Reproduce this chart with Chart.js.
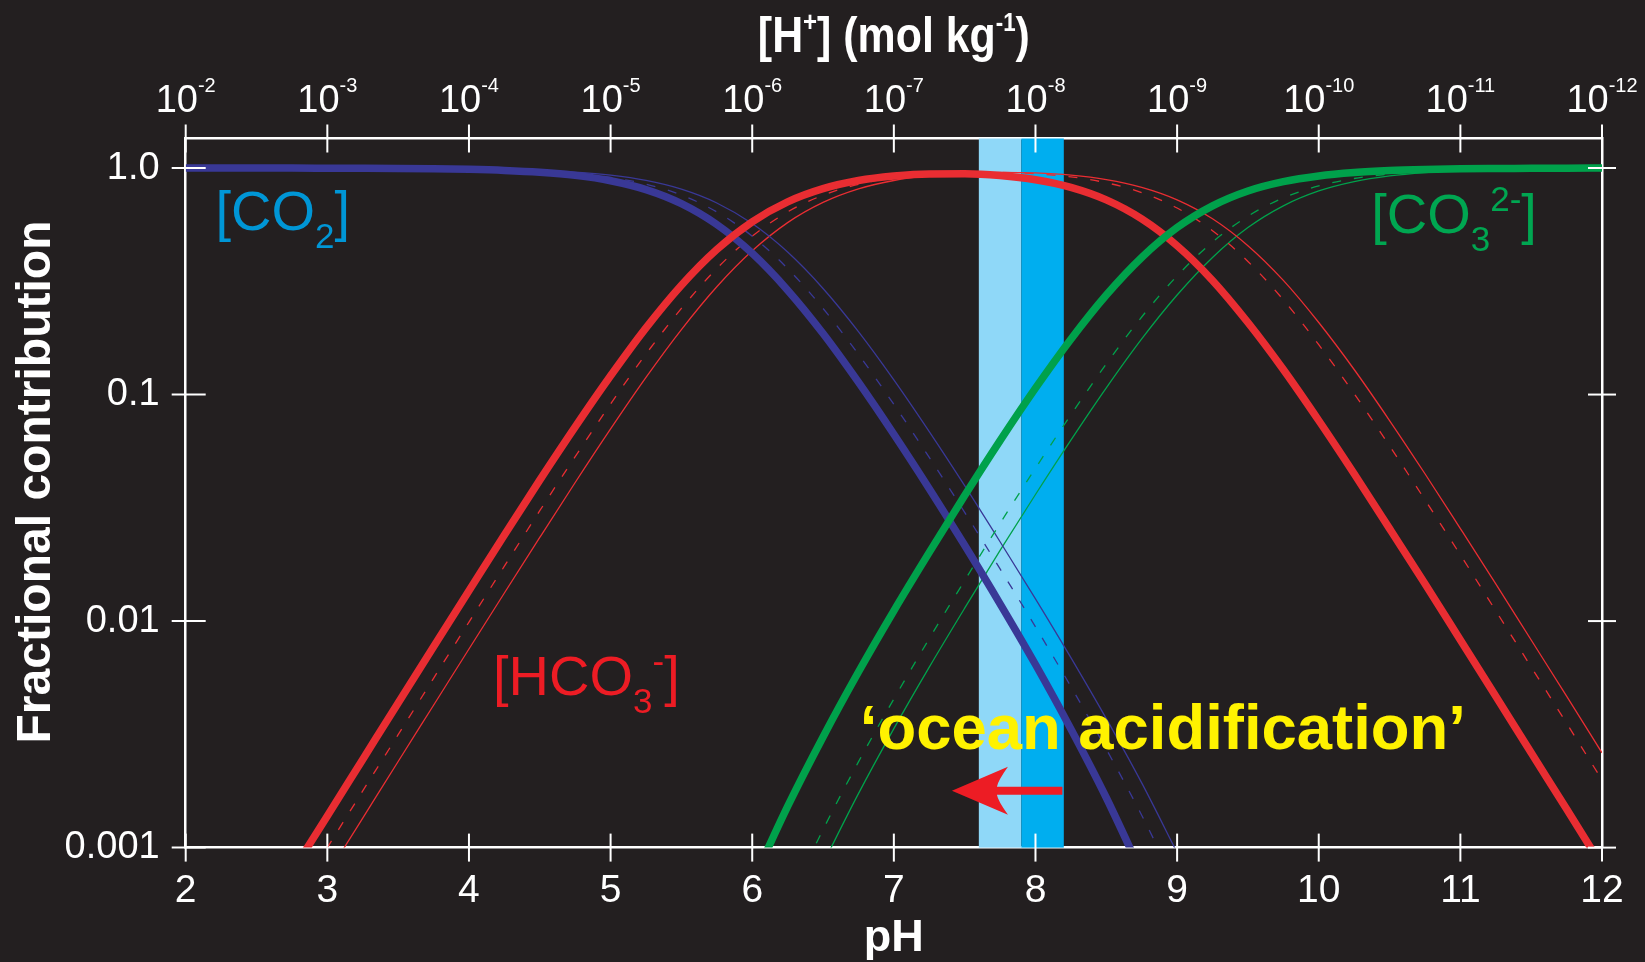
<!DOCTYPE html>
<html>
<head>
<meta charset="utf-8">
<title>Carbonate speciation vs pH</title>
<script src="https://cdn.jsdelivr.net/npm/chart.js@4.4.1/dist/chart.umd.min.js"></script>
<style>
  html, body { margin: 0; padding: 0; background: #231f20; }
  #wrap { width: 1645px; height: 962px; }
</style>
</head>
<body>
<div id="wrap"><canvas id="chart"></canvas></div>
<script>
// pH grid (bottom axis) and the readings of each curve at those pH values
const ph = [2, 2.25, 2.5, 2.75, 3, 3.25, 3.5, 3.75, 4, 4.25, 4.5, 4.75, 5, 5.25, 5.5, 5.75,
            6, 6.25, 6.5, 6.75, 7, 7.25, 7.5, 7.75, 8, 8.25, 8.5, 8.75, 9, 9.25, 9.5, 9.75,
            10, 10.25, 10.5, 10.75, 11, 11.25, 11.5, 11.75, 12];

// thick lines (seawater)
const co2Thick = [0.9999, 0.9998, 0.9996, 0.9992, 0.9986, 0.9976, 0.9957, 0.9923, 0.9864, 0.976, 0.958, 0.928, 0.879, 0.803, 0.696, 0.563,
                  0.42, 0.289, 0.186, 0.1134, 0.0668, 0.0384, 0.0216, 0.01192, 0.00643, 0.00334, 0.00166, 0.00077, null, null, null, null,
                  null, null, null, null, null, null, null, null, null];
const hco3Thick = [null, null, null, 0.00078, 0.00138, 0.00245, 0.00435, 0.0077, 0.0136, 0.024, 0.0419, 0.072, 0.121, 0.197, 0.304, 0.437,
                   0.579, 0.709, 0.811, 0.881, 0.922, 0.942, 0.943, 0.926, 0.887, 0.821, 0.723, 0.596, 0.454, 0.319, 0.208, 0.129,
                   0.0768, 0.0447, 0.0256, 0.0146, 0.00825, 0.00466, 0.00262, 0.00148, 0.00083];
const co3Thick = [null, null, null, null, null, null, null, null, null, null, null, null, null, null, null, null,
                  0.0007, 0.00152, 0.00308, 0.00596, 0.0111, 0.0201, 0.0358, 0.0626, 0.1067, 0.1755, 0.275, 0.403, 0.546, 0.681, 0.792, 0.871,
                  0.923, 0.955, 0.974, 0.985, 0.992, 0.995, 0.997, 0.9985, 0.9992];

// dashed lines
const co2Dash = [0.9999, 0.9998, 0.9997, 0.9994, 0.999, 0.9982, 0.9968, 0.9944, 0.9901, 0.9825, 0.9693, 0.9468, 0.909, 0.849, 0.76, 0.64,
                 0.5, 0.36, 0.24, 0.1506, 0.0905, 0.0528, 0.0302, 0.017, 0.00943, 0.00514, 0.00272, 0.00139, 0.00067, null, null, null,
                 null, null, null, null, null, null, null, null, null];
const hco3Dash = [null, null, null, 0.00056, 0.001, 0.00178, 0.00315, 0.00559, 0.0099, 0.01747, 0.0307, 0.0532, 0.0909, 0.151, 0.24, 0.36,
                  0.5, 0.64, 0.759, 0.847, 0.905, 0.939, 0.955, 0.956, 0.943, 0.914, 0.861, 0.779, 0.666, 0.529, 0.387, 0.262,
                  0.166, 0.101, 0.0593, 0.0343, 0.0196, 0.0111, 0.00627, 0.00354, 0.00199];
const co3Dash = [null, null, null, null, null, null, null, null, null, null, null, null, null, null, null, null,
                 null, 0.00057, 0.0012, 0.00239, 0.00453, 0.00837, 0.0151, 0.027, 0.0473, 0.0814, 0.1365, 0.22, 0.334, 0.471, 0.613, 0.738,
                 0.834, 0.899, 0.941, 0.966, 0.98, 0.989, 0.994, 0.9965, 0.998];

// thin solid lines
const co2Thin = [0.9999, 0.9999, 0.9998, 0.9996, 0.9992, 0.9987, 0.9976, 0.9958, 0.9925, 0.9867, 0.9766, 0.9591, 0.9295, 0.8811, 0.8065, 0.701,
                 0.5685, 0.4255, 0.294, 0.1896, 0.1161, 0.0686, 0.0396, 0.0224, 0.01254, 0.0069, 0.00371, 0.00193, 0.00095, null, null, null,
                 null, null, null, null, null, null, null, null, null];
const hco3Thin = [null, null, null, null, 0.00076, 0.00135, 0.0024, 0.00425, 0.00753, 0.0133, 0.0234, 0.0409, 0.0705, 0.119, 0.1935, 0.299,
                  0.431, 0.574, 0.705, 0.809, 0.881, 0.925, 0.949, 0.957, 0.951, 0.93, 0.889, 0.822, 0.724, 0.597, 0.454, 0.319,
                  0.208, 0.129, 0.0768, 0.0447, 0.0256, 0.0146, 0.00825, 0.00466, 0.00262];
const co3Thin = [null, null, null, null, null, null, null, null, null, null, null, null, null, null, null, null,
                 null, null, 0.00085, 0.00173, 0.00335, 0.00626, 0.0114, 0.0205, 0.0362, 0.0629, 0.107, 0.176, 0.275, 0.403, 0.546, 0.681,
                 0.792, 0.871, 0.923, 0.955, 0.974, 0.985, 0.992, 0.995, 0.997];

// axes
const phTicks = [2, 3, 4, 5, 6, 7, 8, 9, 10, 11, 12];
const hExponents = ['-2', '-3', '-4', '-5', '-6', '-7', '-8', '-9', '-10', '-11', '-12'];
const yTicks = [0.001, 0.01, 0.1, 1];
const yTickText = ['0.001', '0.01', '0.1', '1.0'];

// shaded pH ranges
const bandFuture = [7.6, 7.9];
const bandPresent = [7.9, 8.2];

const FONT = '"Liberation Sans", Arial, Helvetica, sans-serif';
const BG = '#231f20';
const BLUE = '#393896', RED = '#e92d32', GREEN = '#00a14b';

function series(values) {
    return ph.map((p, i) => ({ x: p, y: values[i] }));
}

// draws a row of text pieces (for sub/superscripts), optionally squeezed to a width
function drawRuns(ctx, x, y, runs, o) {
    ctx.save();
    ctx.fillStyle = o.color;
    ctx.textBaseline = 'alphabetic';
    ctx.textAlign = 'left';
    let w = 0;
    runs.forEach(r => {
        ctx.font = `${o.weight || 'normal'} ${r.size}px ${FONT}`;
        r.w = ctx.measureText(r.t).width;
        w += r.w;
    });
    const sx = o.width ? o.width / w : 1;
    const x0 = o.align === 'center' ? x - w * sx / 2 : x;
    ctx.translate(x0, y);
    ctx.scale(sx, 1);
    let cx = 0;
    runs.forEach(r => {
        ctx.font = `${o.weight || 'normal'} ${r.size}px ${FONT}`;
        ctx.fillText(r.t, cx, r.dy || 0);
        cx += r.w;
    });
    ctx.restore();
}

// keep tick labels from pushing the plot area around
function noPad(s) {
    s.paddingLeft = 0; s.paddingRight = 0; s.paddingTop = 0; s.paddingBottom = 0;
}

const decor = {
    id: 'decor',
    beforeDraw(chart) {
        const ctx = chart.ctx;
        ctx.save();
        ctx.fillStyle = BG;
        ctx.fillRect(0, 0, chart.width, chart.height);
        ctx.restore();
    },
    beforeDatasetsDraw(chart) {
        const { ctx, chartArea: a, scales: { x } } = chart;
        ctx.save();
        [[bandFuture, '#8fd8f8'], [bandPresent, '#00aeef']].forEach(([b, c]) => {
            const x1 = x.getPixelForValue(b[0]), x2 = x.getPixelForValue(b[1]);
            ctx.fillStyle = c;
            ctx.fillRect(x1, a.top, x2 - x1, a.bottom - a.top);
        });
        ctx.restore();
    },
    afterDatasetsDraw(chart) {
        const { ctx, scales: { x, y } } = chart;

        // species labels
        drawRuns(ctx, x.getPixelForValue(2.21), y.getPixelForValue(0.531), [
            { t: '[CO', size: 56 }, { t: '2', size: 35, dy: 18 }, { t: ']', size: 56 }
        ], { color: '#0096d6' });
        drawRuns(ctx, x.getPixelForValue(4.17), y.getPixelForValue(0.0047), [
            { t: '[HCO', size: 56 }, { t: '3', size: 35, dy: 18 }, { t: '-', size: 35, dy: -22 }, { t: ']', size: 56 }
        ], { color: '#ed1c24' });
        drawRuns(ctx, x.getPixelForValue(10.37), y.getPixelForValue(0.516), [
            { t: '[CO', size: 56 }, { t: '3', size: 35, dy: 18 }, { t: '2-', size: 35, dy: -22 }, { t: ']', size: 56 }
        ], { color: '#00a651' });

        // ocean acidification note
        drawRuns(ctx, x.getPixelForValue(6.76), y.getPixelForValue(0.00272), [{ t: '\u2018ocean acidification\u2019', size: 63 }],
            { color: '#fff200', weight: 'bold', width: 606 });

        // arrow pointing to lower pH
        const ax0 = x.getPixelForValue(8.19), ax1 = x.getPixelForValue(7.41), ay = y.getPixelForValue(0.00178);
        ctx.save();
        ctx.fillStyle = '#ed1c24';
        ctx.beginPath();
        ctx.moveTo(ax1, ay);
        ctx.lineTo(ax1 + 56, ay - 24);
        ctx.quadraticCurveTo(ax1 + 46, ay - 10, ax1 + 45, ay - 4);
        ctx.lineTo(ax0, ay - 4);
        ctx.lineTo(ax0, ay + 4);
        ctx.lineTo(ax1 + 45, ay + 4);
        ctx.quadraticCurveTo(ax1 + 46, ay + 10, ax1 + 56, ay + 24);
        ctx.closePath();
        ctx.fill();
        ctx.restore();
    },
    afterDraw(chart) {
        const { ctx, chartArea: a, scales: { x, y, x2 } } = chart;
        ctx.save();
        ctx.strokeStyle = '#ffffff';
        ctx.lineWidth = 2;
        const seg = (x1, y1, x2_, y2) => { ctx.beginPath(); ctx.moveTo(x1, y1); ctx.lineTo(x2_, y2); ctx.stroke(); };
        phTicks.forEach(v => {
            const px = x.getPixelForValue(v);
            seg(px, a.bottom - 14, px, a.bottom + 14);
            const pt = x2.getPixelForValue(v);
            seg(pt, a.top - 14, pt, a.top + 14);
        });
        yTicks.forEach(v => {
            const py = y.getPixelForValue(v);
            seg(a.left - 14, py, a.left + 20, py);
            seg(a.right - 14, py, a.right + 14, py);
        });
        ctx.restore();

        // [H+] tick labels on the top axis
        phTicks.forEach((v, i) => {
            drawRuns(ctx, x2.getPixelForValue(v), a.top - 27, [
                { t: '10', size: 38 }, { t: hExponents[i], size: 20, dy: -20 }
            ], { color: '#ffffff', align: 'center' });
        });

        const cx = (a.left + a.right) / 2;
        drawRuns(ctx, cx, 52, [
            { t: '[H', size: 50 }, { t: '+', size: 28, dy: -21 }, { t: '] (mol kg', size: 50 },
            { t: '-1', size: 26, dy: -21 }, { t: ')', size: 50 }
        ], { color: '#ffffff', weight: 'bold', align: 'center', width: 272 });

        drawRuns(ctx, cx, 951, [{ t: 'pH', size: 45 }], { color: '#ffffff', weight: 'bold', align: 'center' });

        ctx.save();
        ctx.translate(50, 482);
        ctx.rotate(-Math.PI / 2);
        drawRuns(ctx, 0, 0, [{ t: 'Fractional contribution', size: 49 }],
            { color: '#ffffff', weight: 'bold', align: 'center', width: 523 });
        ctx.restore();
    }
};

const thick = 7.5, thin = 1.3, dash = [9, 13];

new Chart(document.getElementById('chart'), {
    type: 'line',
    data: {
        datasets: [
            { label: 'CO3 2- (thick)', data: series(co3Thick), borderColor: GREEN, borderWidth: thick, order: 0 },
            { label: 'HCO3- (thick)', data: series(hco3Thick), borderColor: RED, borderWidth: thick, order: 1 },
            { label: 'CO2 (thick)', data: series(co2Thick), borderColor: BLUE, borderWidth: thick, order: 2 },
            { label: 'CO2 (dashed)', data: series(co2Dash), borderColor: BLUE, borderWidth: thin, borderDash: dash, order: 3 },
            { label: 'HCO3- (dashed)', data: series(hco3Dash), borderColor: RED, borderWidth: thin, borderDash: dash, order: 3 },
            { label: 'CO3 2- (dashed)', data: series(co3Dash), borderColor: GREEN, borderWidth: thin, borderDash: dash, order: 3 },
            { label: 'CO2 (thin)', data: series(co2Thin), borderColor: BLUE, borderWidth: thin, order: 3 },
            { label: 'HCO3- (thin)', data: series(hco3Thin), borderColor: RED, borderWidth: thin, order: 3 },
            { label: 'CO3 2- (thin)', data: series(co3Thin), borderColor: GREEN, borderWidth: thin, order: 3 }
        ]
    },
    options: {
        responsive: true,
        maintainAspectRatio: false,
        animation: false,
        layout: { padding: 0, autoPadding: false },
        datasets: { line: { clip: 0, pointRadius: 0, cubicInterpolationMode: 'monotone', fill: false } },
        plugins: { legend: { display: false }, tooltip: { enabled: false } },
        scales: {
            x: {
                type: 'linear', position: 'bottom', min: 2, max: 12,
                afterBuildTicks: s => { s.ticks = phTicks.map(v => ({ value: v })); },
                ticks: { color: '#ffffff', font: { family: FONT, size: 39, lineHeight: 1 }, padding: 24, maxRotation: 0, autoSkip: false },
                grid: { display: false, drawTicks: false },
                border: { color: '#ffffff', width: 2.5 },
                afterFit: s => { s.height = 114.4; noPad(s); }
            },
            x2: {
                type: 'linear', position: 'top', min: 2, max: 12,
                ticks: { display: false },
                grid: { display: false, drawTicks: false },
                border: { color: '#ffffff', width: 2.5 },
                afterFit: s => { s.height = 138.5; noPad(s); }
            },
            y: {
                type: 'logarithmic', position: 'left', min: 0.001, max: 1.35,
                afterBuildTicks: s => { s.ticks = yTicks.map(v => ({ value: v })); },
                ticks: { color: '#ffffff', font: { family: FONT, size: 38, lineHeight: 1 }, padding: 26,
                         callback: (v, i) => yTickText[i] },
                grid: { display: false, drawTicks: false },
                border: { color: '#ffffff', width: 2.5 },
                afterFit: s => { s.width = 185.7; noPad(s); }
            },
            y2: {
                type: 'logarithmic', position: 'right', min: 0.001, max: 1.35,
                ticks: { display: false },
                grid: { display: false, drawTicks: false },
                border: { color: '#ffffff', width: 2.5 },
                afterFit: s => { s.width = 43; noPad(s); }
            }
        }
    },
    plugins: [decor]
});
</script>
</body>
</html>
